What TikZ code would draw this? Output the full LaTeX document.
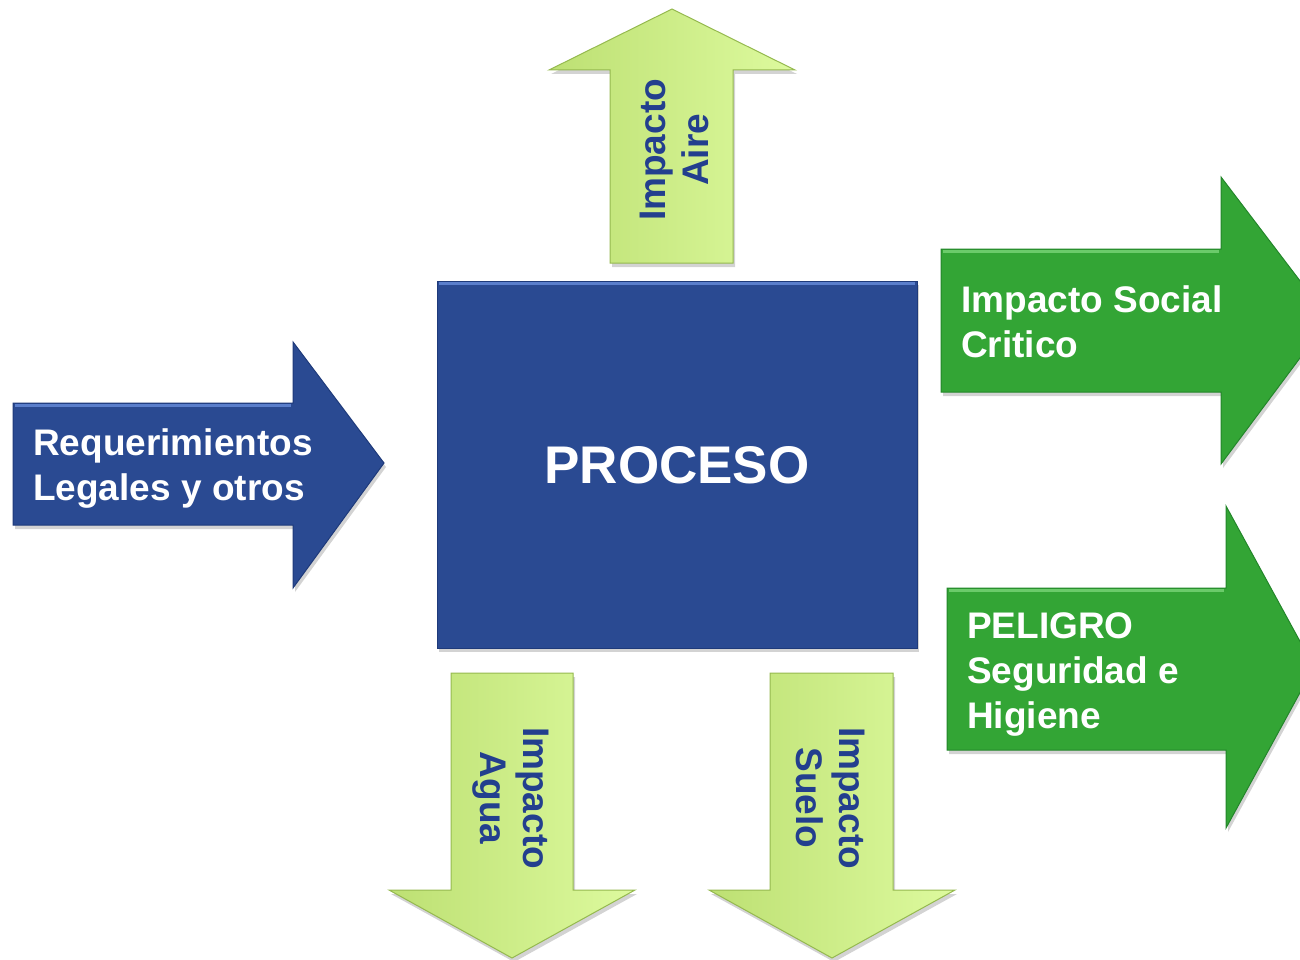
\documentclass[tikz,border=0pt]{standalone}
\usepackage{fontspec}
\setmainfont{Liberation Sans}
\usetikzlibrary{shadows}
\definecolor{procblue}{HTML}{2A4A92}
\definecolor{blueedge}{HTML}{1E3A7A}
\definecolor{bluelight}{HTML}{5A7ECB}
\definecolor{darkgreen}{HTML}{33A535}
\definecolor{greenedge}{HTML}{23862A}
\definecolor{greenlight}{HTML}{6BCB6A}
\definecolor{lgA}{HTML}{BDE073}
\definecolor{lgB}{HTML}{DDFA9E}
\definecolor{lgedge}{HTML}{95B94F}
\definecolor{txtblue}{HTML}{233F8E}
\tikzset{
  shad/.style={drop shadow={opacity=0.35, shadow xshift=2pt, shadow yshift=-4pt}},
  bluearrow/.style={fill=procblue, draw=blueedge, line width=1pt, line join=miter, shad},
  greenarrow/.style={fill=darkgreen, draw=greenedge, line width=1pt, line join=miter, shad},
  lightarrow/.style={left color=lgA, right color=lgB, draw=lgedge, line width=1pt, line join=miter, shad},
  whitetxt/.style={text=white, font=\bfseries\fontsize{37}{45}\selectfont, inner sep=0pt, align=left},
  bluetxt/.style={text=txtblue, font=\bfseries\fontsize{37}{43}\selectfont, inner sep=0pt, align=center},
  hilite/.style={line width=3pt, line cap=butt}
}
\begin{document}
\begin{tikzpicture}[x=1pt,y=-1pt]
\useasboundingbox (0,0) rectangle (1300,960);
\begin{scope}
\clip (0,0) rectangle (1300,960);
% top arrow (Aire)
\path[lightarrow] (610,263) -- (610,70) -- (549,70) -- (672,9) -- (795,70) -- (733,70) -- (733,263) -- cycle;
% bottom arrows
\path[lightarrow] (451,673) -- (573,673) -- (573,890) -- (635,890) -- (512,958) -- (389,890) -- (451,890) -- cycle;
\path[lightarrow] (770,673) -- (893,673) -- (893,890) -- (955,890) -- (832,958) -- (709,890) -- (770,890) -- cycle;
% left arrow
\path[bluearrow] (13,403) -- (293,403) -- (293,342) -- (384,463) -- (293,588) -- (293,525) -- (13,525) -- cycle;
\draw[hilite, bluelight] (15,405.5) -- (291,405.5);
% right arrows
\path[greenarrow] (941,249) -- (1221,249) -- (1221,177) -- (1329,319) -- (1221,464) -- (1221,392) -- (941,392) -- cycle;
\draw[hilite, greenlight] (943,251.5) -- (1219,251.5);
\path[greenarrow] (947,588) -- (1226,588) -- (1226,506) -- (1314,667) -- (1226,828) -- (1226,750) -- (947,750) -- cycle;
\draw[hilite, greenlight] (949,590.5) -- (1224,590.5);
% process box
\path[fill=procblue, draw=blueedge, line width=1pt, shad] (437,281) rectangle (917,648);
\draw[hilite, bluelight] (439,283.5) -- (915,283.5);
\end{scope}
% texts
\node[whitetxt, anchor=west] (req) at (33,469) {Requerimientos\\Legales y otros};
\node[text=white, font=\bfseries\fontsize{53}{60}\selectfont, inner sep=0pt] (proc) at (677,465) {PROCESO};
\node[whitetxt, anchor=west] (social) at (961,322) {Impacto Social\\Critico};
\node[whitetxt, anchor=west] (peligro) at (967,674) {PELIGRO\\Seguridad e\\Higiene};
\node[bluetxt, rotate=90] (aire) at (674,150) {Impacto\\Aire};
\node[bluetxt, rotate=-90] (agua) at (511,798) {Impacto\\Agua};
\node[bluetxt, rotate=-90] (suelo) at (831,798) {Impacto\\Suelo};
\end{tikzpicture}
\end{document}
